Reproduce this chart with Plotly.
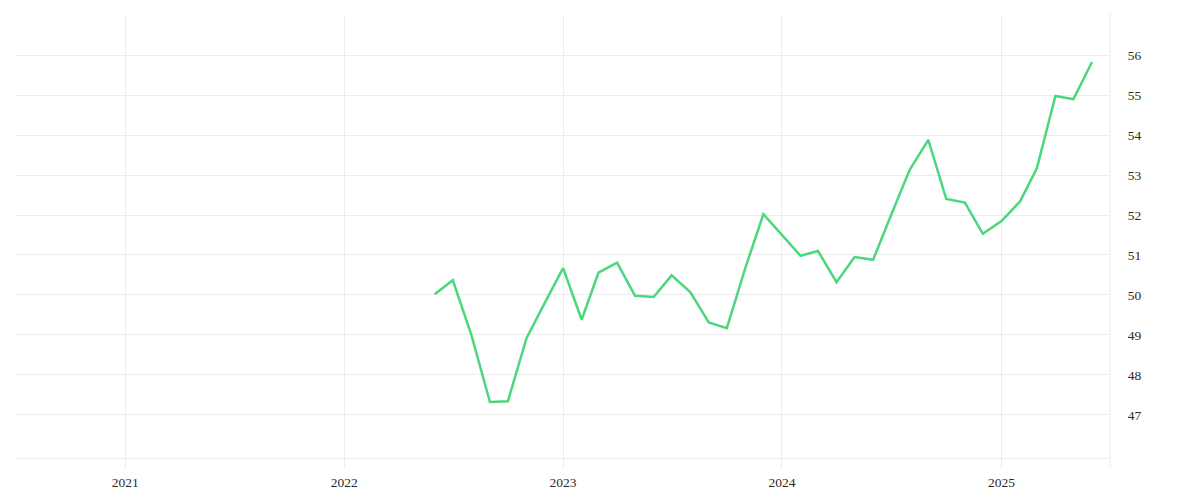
import plotly.graph_objects as go
import pandas as pd

dates = pd.date_range("2022-06-01", "2025-06-01", freq="MS").strftime("%Y-%m-%d").tolist()
values = [50.02, 50.37, 49.00, 47.32, 47.34, 48.92, 49.79, 50.67, 49.38, 50.56,
          50.81, 49.98, 49.95, 50.49, 50.07, 49.31, 49.17, 50.68, 52.02, 51.50,
          50.98, 51.10, 50.32, 50.95, 50.88, 52.00, 53.13, 53.88, 52.40, 52.31,
          51.53, 51.85, 52.34, 53.17, 54.98, 54.90, 55.83]

y_tickvals = [47, 48, 49, 50, 51, 52, 53, 54, 55, 56, 57]
y_ticktext = ["47", "48", "49", "50", "51", "52", "53", "54", "55", "56", ""]
x_tickvals = ["2021-01-01", "2022-01-01", "2023-01-01", "2024-01-01", "2025-01-01"]
x_ticktext = ["2021", "2022", "2023", "2024", "2025"]

grid = "#ececec"

fig = go.Figure()
fig.add_trace(go.Scatter(x=dates, y=values, mode="lines",
                         line=dict(color="#4cd67e", width=2.5), hoverinfo="skip"))

fig.update_layout(
    width=1200, height=500,
    margin=dict(l=7, r=98, t=7, b=50),
    paper_bgcolor="white", plot_bgcolor="white",
    showlegend=False,
    font=dict(family="Liberation Serif", size=13.5, color="#2a2a2a"),
    xaxis=dict(
        range=["2020-07-01", "2025-07-01"],
        tickvals=x_tickvals, ticktext=x_ticktext,
        showgrid=True, gridcolor=grid, gridwidth=1,
        ticks="outside", ticklen=10, tickcolor=grid,
        ticklabelstandoff=2,
        showline=True, linecolor=grid, linewidth=1,
        zeroline=False,
    ),
    yaxis=dict(
        side="right",
        range=[45.92, 57.005],
        tickvals=y_tickvals, ticktext=y_ticktext,
        showgrid=True, gridcolor=grid, gridwidth=1,
        ticks="outside", ticklen=14, tickcolor="rgba(0,0,0,0)",
        zeroline=False, showline=False,
    ),
    shapes=[dict(type="line", xref="paper", yref="paper", x0=1, x1=1,
                 y0=-0.023, y1=1.005, line=dict(color=grid, width=1))],
)

fig.write_html("out.html", config={"displayModeBar": False})
